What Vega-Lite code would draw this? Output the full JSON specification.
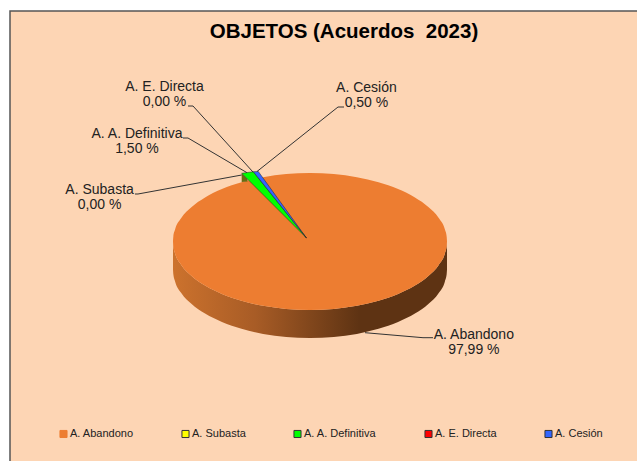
{
"$schema":"https://vega.github.io/schema/vega-lite/v6.json",
"width":632,"height":455,
"autosize":"none",
"padding":{"left":10,"top":11,"right":0,"bottom":0},
"background":"#ffffff",
"view":{"fill":"#FDD5B4","stroke":"#555555","strokeWidth":1.5},
"title":{"text":"OBJETOS (Acuerdos \u00a02023)","font":"Liberation Sans","fontSize":20.5,"fontWeight":"bold","color":"#000000","anchor":"middle","frame":"group","orient":"top","offset":-31,"dx":18},
"datasets":{
"rim":[
{"u":-100,"v":0,"v2":0,"v3":-40.9},
{"u":-99.76,"v":6.98,"v2":-6.98,"v3":-47.88},
{"u":-98.48,"v":17.36,"v2":-17.36,"v3":-58.26},
{"u":-93.97,"v":34.2,"v2":-34.2,"v3":-75.1},
{"u":-86.6,"v":50,"v2":-50,"v3":-90.9},
{"u":-76.6,"v":64.28,"v2":-64.28,"v3":-105.18},
{"u":-64.28,"v":76.6,"v2":-76.6,"v3":-117.5},
{"u":-50,"v":86.6,"v2":-86.6,"v3":-127.5},
{"u":-34.2,"v":93.97,"v2":-93.97,"v3":-134.87},
{"u":-17.36,"v":98.48,"v2":-98.48,"v3":-139.38},
{"u":0,"v":100,"v2":-100,"v3":-140.9},
{"u":17.36,"v":98.48,"v2":-98.48,"v3":-139.38},
{"u":34.2,"v":93.97,"v2":-93.97,"v3":-134.87},
{"u":50,"v":86.6,"v2":-86.6,"v3":-127.5},
{"u":64.28,"v":76.6,"v2":-76.6,"v3":-117.5},
{"u":76.6,"v":64.28,"v2":-64.28,"v3":-105.18},
{"u":86.6,"v":50,"v2":-50,"v3":-90.9},
{"u":93.97,"v":34.2,"v2":-34.2,"v3":-75.1},
{"u":98.48,"v":17.36,"v2":-17.36,"v3":-58.26},
{"u":99.76,"v":6.98,"v2":-6.98,"v3":-47.88},
{"u":100,"v":0,"v2":0,"v3":-40.9}
],
"wedges":[
{"cat":"A. A. Definitiva","u":-49.85,"v":99.56,"v2":99.56},
{"cat":"A. A. Definitiva","u":-41.39,"v":101.9,"v2":82.67},
{"cat":"A. A. Definitiva","u":-2.55,"v":5.11,"v2":5.11},
{"cat":"A. Cesión","u":-41.39,"v":101.9,"v2":101.9},
{"cat":"A. Cesión","u":-37.74,"v":102.2,"v2":92.8},
{"cat":"A. Cesión","u":-2.55,"v":5.11,"v2":5.11}
],
"side":[
{"u":-49.85,"v":99.56,"v2":86.86},
{"u":-45.6,"v":91.07,"v2":87.6}
],
"leaders":[
{"cat":"A. Abandono","u":40.15,"v":-133.14,"o":1},
{"cat":"A. Abandono","u":82.48,"v":-140.44,"o":2},
{"cat":"A. Abandono","u":89.78,"v":-140.44,"o":3},
{"cat":"A. Cesión","u":-38.69,"v":102.19,"o":1},
{"cat":"A. Cesión","u":20.44,"v":196.35,"o":2},
{"cat":"A. Cesión","u":24.82,"v":196.35,"o":3},
{"cat":"A. E. Directa","u":-89.05,"v":197.81,"o":1},
{"cat":"A. E. Directa","u":-85.4,"v":197.81,"o":2},
{"cat":"A. E. Directa","u":-41.61,"v":101.46,"o":3},
{"cat":"A. A. Definitiva","u":-92.7,"v":151.09,"o":1},
{"cat":"A. A. Definitiva","u":-89.05,"v":151.09,"o":2},
{"cat":"A. A. Definitiva","u":-45.99,"v":100.44,"o":3},
{"cat":"A. Subasta","u":-127.74,"v":69.34,"o":1},
{"cat":"A. Subasta","u":-125.55,"v":69.34,"o":2},
{"cat":"A. Subasta","u":-49.85,"v":97.08,"o":3}
],
"labels":[
{"cat":"A. Abandono","pct":97.99,"label":"A. Abandono\n97,99 %","u":119.6,"v":-126.3},
{"cat":"A. Subasta","pct":0,"label":"A. Subasta\n0,00 %","u":-153.6,"v":85.4},
{"cat":"A. A. Definitiva","pct":1.5,"label":"A. A. Definitiva\n1,50 %","u":-126.3,"v":167.1},
{"cat":"A. E. Directa","pct":0,"label":"A. E. Directa\n0,00 %","u":-106.2,"v":235.7},
{"cat":"A. Cesión","pct":0.5,"label":"A. Cesión\n0,50 %","u":41.2,"v":234.3}
]
},
"encoding":{
"x":{"field":"u","type":"quantitative","axis":null,"scale":{"domain":[-218.98,242.34],"nice":false,"zero":false}},
"y":{"field":"v","type":"quantitative","axis":null,"scale":{"domain":[-327.74,336.5],"nice":false,"zero":false}}
},
"layer":[
{"data":{"name":"rim"},
"mark":{"type":"area","orient":"vertical","interpolate":"monotone","color":{"gradient":"linear","x1":0,"x2":1,"y1":0,"y2":0,"stops":[{"offset":0,"color":"#CC722D"},{"offset":0.3,"color":"#A85C26"},{"offset":0.68,"color":"#5E3313"},{"offset":1,"color":"#5E3313"}]}},
"encoding":{"y":{"field":"v2","type":"quantitative"},"y2":{"field":"v3"}}},
{"data":{"name":"rim"},
"transform":[{"calculate":"'A. Abandono'","as":"cat"}],
"mark":{"type":"area","orient":"vertical","interpolate":"monotone"},
"encoding":{"y2":{"field":"v2"},
"color":{"field":"cat","type":"nominal",
"scale":{"domain":["A. Abandono","A. Subasta","A. A. Definitiva","A. E. Directa","A. Cesión"],"range":["#ED7D31","#FFFF00","#00FF00","#FF0000","#3366FF"]},
"legend":{"title":null,"orient":"none","legendX":48,"legendY":417,"direction":"horizontal","columns":5,"columnPadding":45,"symbolType":"square","symbolSize":50,"symbolStrokeColor":"#333333","symbolStrokeWidth":1,"symbolOpacity":1,"labelFont":"Liberation Sans","labelFontSize":11,"labelColor":"#222222","labelOffset":1,"labelLimit":200,
"encode":{"symbols":{"update":{"stroke":{"signal":"datum.value === 'A. Abandono' ? '#ED7D31' : '#333333'"}}}}}}}},
{"data":{"name":"side"},
"mark":{"type":"area","orient":"vertical","color":"#6B6B12"},
"encoding":{"y2":{"field":"v2"}}},
{"data":{"name":"wedges"},
"mark":{"type":"area","orient":"vertical","stroke":"#222222","strokeWidth":0.5},
"encoding":{"y2":{"field":"v2"},"color":{"field":"cat","type":"nominal"}}},
{"data":{"name":"leaders"},
"mark":{"type":"line","color":"#333333","strokeWidth":1},
"encoding":{"detail":{"field":"cat"},"order":{"field":"o","type":"ordinal"}}},
{"data":{"name":"labels"},
"mark":{"type":"text","lineBreak":"\n","align":"center","baseline":"top","font":"Liberation Sans","fontSize":14,"lineHeight":15,"color":"#222222"},
"encoding":{"text":{"field":"label"}}}
]
}
